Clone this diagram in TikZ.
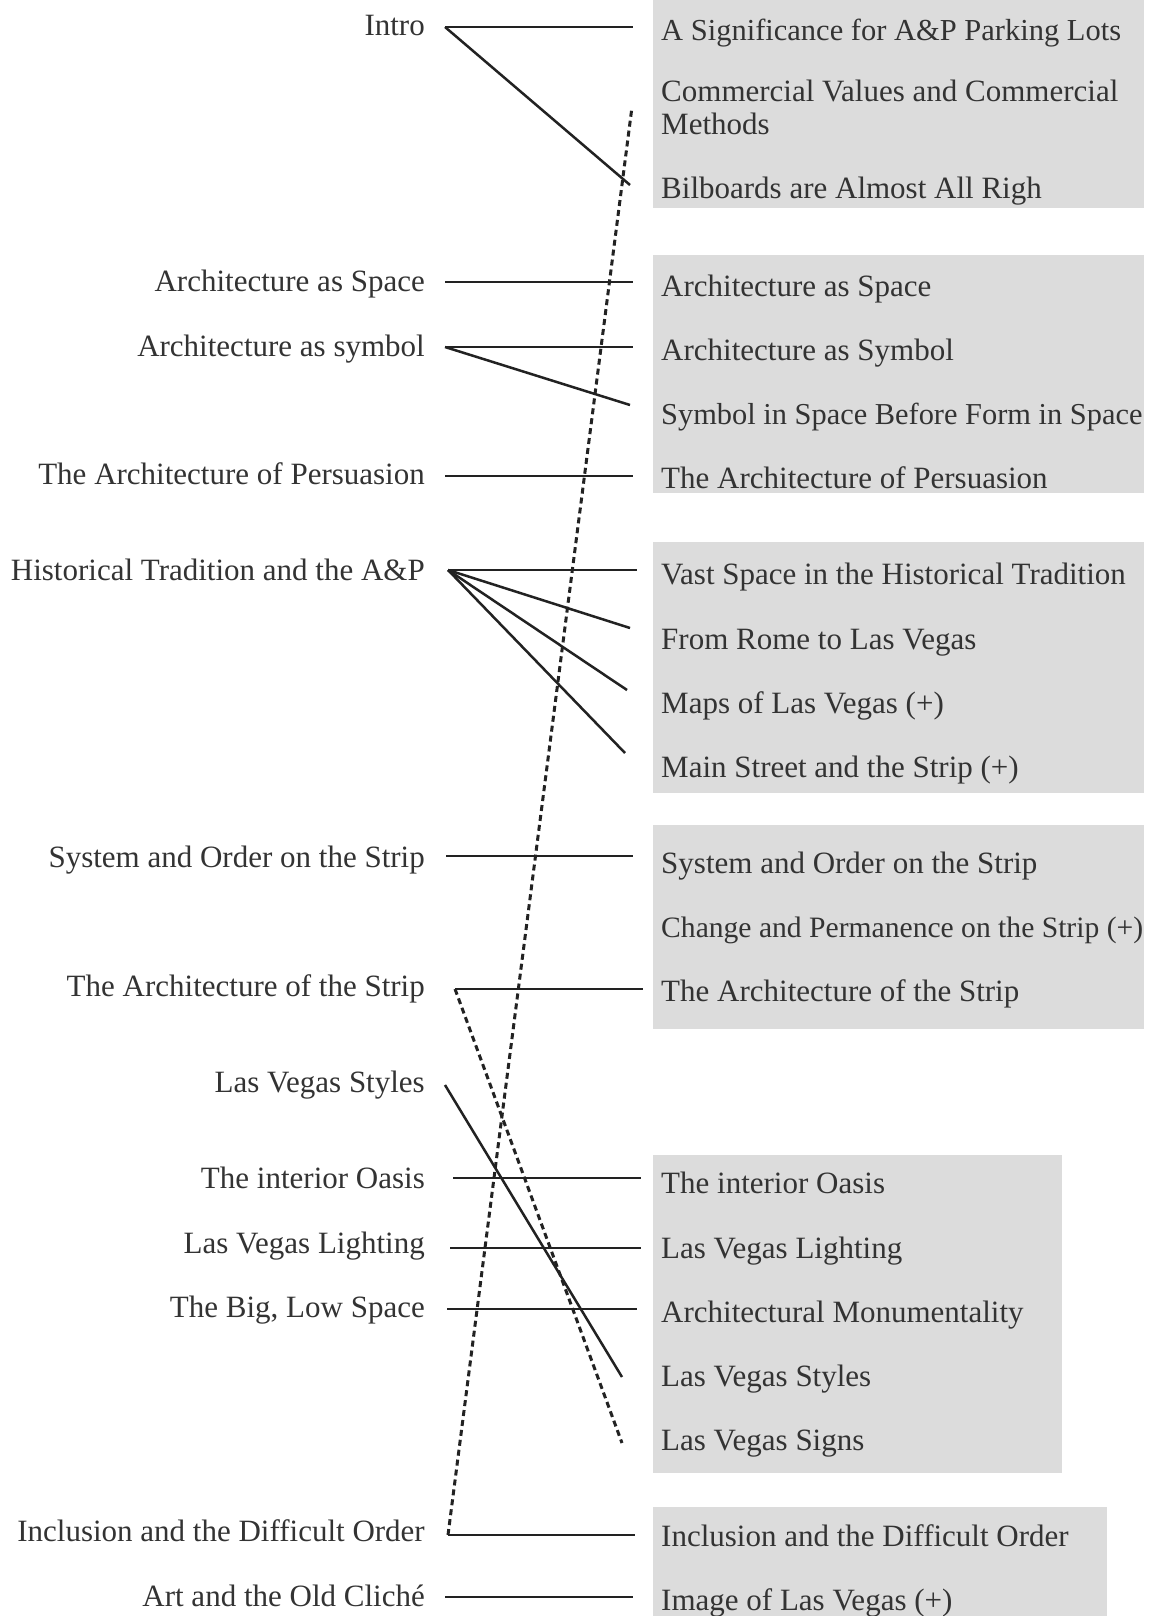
\documentclass[tikz,border=0pt]{standalone}
\usepackage{fontspec}
\setmainfont{Liberation Serif}
\definecolor{txt}{HTML}{333333}
\definecolor{ln}{HTML}{222222}
\definecolor{boxg}{HTML}{DCDCDC}
\begin{document}
\begin{tikzpicture}[x=1pt,y=-1pt,
  lab/.style={font=\fontsize{31}{33}\selectfont, text=txt, inner sep=0pt},
  fs/.style={font=\fontsize{#1}{33}\selectfont},
  llab/.style={lab, anchor=base east},
  rlab/.style={lab, anchor=base west, align=left},
  conn/.style={draw=ln, line width=2.5pt},
  dconn/.style={draw=ln, line width=3pt, dash pattern=on 6pt off 4pt},
  gbox/.style={fill=boxg}]
\useasboundingbox (0,0) rectangle (1155,1616);
\fill[white] (0,0) rectangle (1155,1616);
% grey boxes
\fill[gbox] (653,0) rectangle (1144,208);
\fill[gbox] (653,255) rectangle (1144,493);
\fill[gbox] (653,542) rectangle (1144,793);
\fill[gbox] (653,825) rectangle (1144,1029);
\fill[gbox] (653,1155) rectangle (1062,1473);
\fill[gbox] (653,1507) rectangle (1107,1616);
% left labels
\node[llab] (lIntro)  at (425,36)   {Intro};
\node[llab] (lSpace)  at (425,291)  {Architecture as Space};
\node[llab] (lSymbol) at (425,356)  {Architecture as symbol};
\node[llab] (lPers)   at (425,484)  {The Architecture of Persuasion};
\node[llab] (lHist)   at (425,580)  {Historical Tradition and the A\&P};
\node[llab] (lSys)    at (425,867)  {System and Order on the Strip};
\node[llab] (lStrip)  at (425,996)  {The Architecture of the Strip};
\node[llab] (lStyles) at (425,1092) {Las Vegas Styles};
\node[llab] (lOasis)  at (425,1188) {The interior Oasis};
\node[llab] (lLight)  at (425,1253) {Las Vegas Lighting};
\node[llab] (lBig)    at (425,1317) {The Big, Low Space};
\node[llab] (lIncl)   at (425,1541) {Inclusion and the Difficult Order};
\node[llab] (lArt)    at (425,1606) {Art and the Old Cliché};
% right labels
\node[rlab, fs=30.5] (rSig) at (661,41) {A Significance for A\&P Parking Lots};
\node[rlab] (rComm)   at (661,135)  {Commercial Values and Commercial\\Methods};
\node[rlab] (rBill)   at (661,198)  {Bilboards are Almost All Righ};
\node[rlab] (rSpace)  at (661,296)  {Architecture as Space};
\node[rlab] (rSymbol) at (661,360)  {Architecture as Symbol};
\node[rlab, fs=30.4] (rSIS) at (661,424) {Symbol in Space Before Form in Space};
\node[rlab] (rPers)   at (661,488)  {The Architecture of Persuasion};
\node[rlab] (rVast)   at (661,584)  {Vast Space in the Historical Tradition};
\node[rlab] (rRome)   at (661,649)  {From Rome to Las Vegas};
\node[rlab] (rMaps)   at (661,713)  {Maps of Las Vegas (+)};
\node[rlab] (rMain)   at (661,777)  {Main Street and the Strip (+)};
\node[rlab] (rSys)    at (661,873)  {System and Order on the Strip};
\node[rlab, fs=29.6] (rChange) at (661,937) {Change and Permanence on the Strip (+)};
\node[rlab] (rStrip)  at (661,1001) {The Architecture of the Strip};
\node[rlab] (rOasis)  at (661,1193) {The interior Oasis};
\node[rlab] (rLight)  at (661,1258) {Las Vegas Lighting};
\node[rlab] (rMon)    at (661,1322) {Architectural Monumentality};
\node[rlab] (rStyles) at (661,1386) {Las Vegas Styles};
\node[rlab] (rSigns)  at (661,1450) {Las Vegas Signs};
\node[rlab] (rIncl)   at (661,1546) {Inclusion and the Difficult Order};
\node[rlab] (rImage)  at (661,1610) {Image of Las Vegas (+)};
% connector end points
\coordinate (aIntro)  at (445,27);
\coordinate (aSpace)  at (445,282);
\coordinate (aSymbol) at (445,347);
\coordinate (aPers)   at (445,476);
\coordinate (aHist)   at (448,570);
\coordinate (aSys)    at (446,856);
\coordinate (aStrip)  at (455,989);
\coordinate (aStyles) at (445,1085);
\coordinate (aOasis)  at (453,1178);
\coordinate (aLight)  at (450,1248);
\coordinate (aBig)    at (447,1309);
\coordinate (aIncl)   at (448,1535);
\coordinate (aArt)    at (445,1597);
\coordinate (bSig)    at (633,27);
\coordinate (bComm)   at (632,107);
\coordinate (bBill)   at (630,185);
\coordinate (bSpace)  at (633,282);
\coordinate (bSymbol) at (633,347);
\coordinate (bSIS)    at (630,405);
\coordinate (bPers)   at (633,476);
\coordinate (bVast)   at (637,570);
\coordinate (bRome)   at (630,628);
\coordinate (bMaps)   at (627,690);
\coordinate (bMain)   at (625,753);
\coordinate (bSys)    at (633,856);
\coordinate (bStrip)  at (643,989);
\coordinate (bOasis)  at (641,1178);
\coordinate (bLight)  at (641,1248);
\coordinate (bMon)    at (637,1309);
\coordinate (bStyles) at (622,1377);
\coordinate (bSigns)  at (622,1443);
\coordinate (bIncl)   at (635,1535);
\coordinate (bImage)  at (633,1597);
% connectors
\draw[conn] (aIntro) -- (bSig);
\draw[conn] (aIntro) -- (bBill);
\draw[conn] (aSpace) -- (bSpace);
\draw[conn] (aSymbol) -- (bSymbol);
\draw[conn] (aSymbol) -- (bSIS);
\draw[conn] (aPers) -- (bPers);
\draw[conn] (aHist) -- (bVast);
\draw[conn] (aHist) -- (bRome);
\draw[conn] (aHist) -- (bMaps);
\draw[conn] (aHist) -- (bMain);
\draw[conn] (aSys) -- (bSys);
\draw[conn] (aStrip) -- (bStrip);
\draw[dconn] (aStrip) -- (bSigns);
\draw[conn] (aStyles) -- (bStyles);
\draw[conn] (aOasis) -- (bOasis);
\draw[conn] (aLight) -- (bLight);
\draw[conn] (aBig) -- (bMon);
\draw[conn] (aIncl) -- (bIncl);
\draw[dconn] (aIncl) -- (bComm);
\draw[conn] (aArt) -- (bImage);
\end{tikzpicture}
\end{document}
